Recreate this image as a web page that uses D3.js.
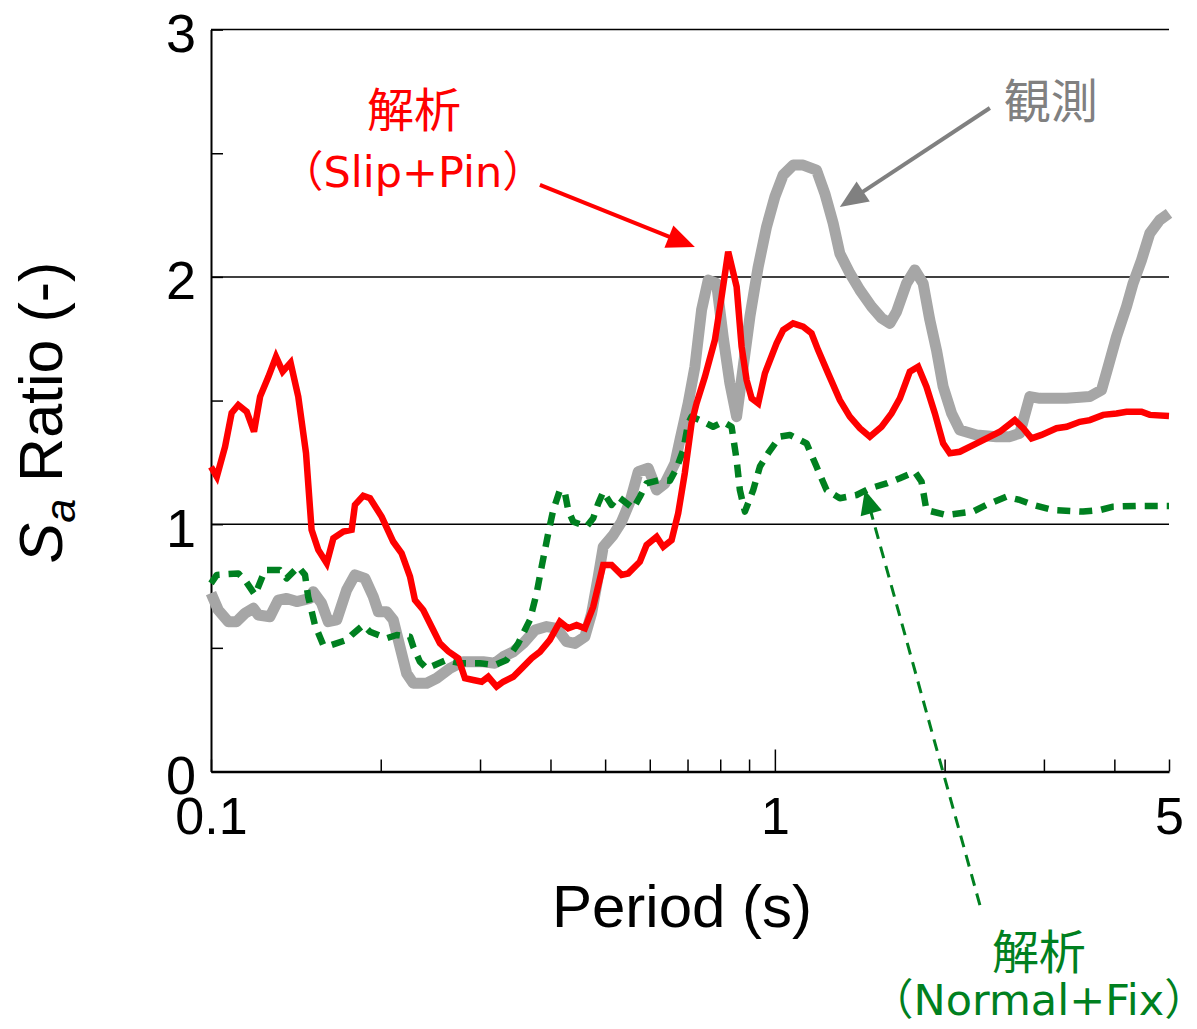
<!DOCTYPE html>
<html lang="ja">
<head>
<meta charset="utf-8">
<title>Sa Ratio</title>
<script src="https://cdn.jsdelivr.net/npm/d3@7/dist/d3.min.js"></script>
<style>
  html, body { margin: 0; padding: 0; background: #fff; }
  svg { display: block; }
</style>
</head>
<body>
<script>
// ---- data -------------------------------------------------------------
// Observed spectral-acceleration ratio (観測)
const periodsObs = [
  0.1000,0.1030,0.1073,0.1110,0.1149,0.1189,0.1213,0.1272,0.1316,0.1362,
  0.1419,0.1498,0.1518,0.1571,0.1614,0.1671,0.1740,0.1800,0.1875,0.1940,
  0.1980,0.2049,0.2105,0.2163,0.2223,0.2284,0.2413,0.2513,0.2653,0.2801,
  0.3039,0.3188,0.3298,0.3436,0.3579,0.3754,0.3938,0.4102,0.4273,0.4420,
  0.4603,0.4732,0.4861,0.4962,0.5167,0.5348,0.5534,0.5724,0.5962,0.6170,
  0.6383,0.6648,0.6786,0.7019,0.7214,0.7413,0.7616,0.7881,0.8096,0.8321,
  0.8554,0.8787,0.9031,0.9342,0.9667,1.0000,1.0344,1.0775,1.1224,1.1853,
  1.2262,1.2687,1.3037,1.3580,1.4148,1.4840,1.546,1.5991,1.6436,1.7120,
  1.7709,1.8318,1.8827,1.9348,1.988,2.0579,2.128,2.279,2.4718,2.6104,
  2.7190,2.8321,2.9510,3.291,3.619,3.7960,3.8995,4.035,4.204,4.3182,
  4.469,4.623,4.8150,5.0
];
const ratioObs = [
  0.721,0.653,0.606,0.606,0.640,0.660,0.633,0.626,0.693,0.700,
  0.687,0.700,0.727,0.680,0.606,0.613,0.734,0.795,0.781,0.707,
  0.646,0.646,0.613,0.505,0.397,0.357,0.357,0.377,0.417,0.444,
  0.444,0.438,0.464,0.484,0.518,0.572,0.586,0.579,0.525,0.518,
  0.545,0.640,0.788,0.909,0.956,1.010,1.091,1.212,1.226,1.138,
  1.165,1.246,1.340,1.489,1.637,1.866,1.987,1.974,1.758,1.570,
  1.435,1.637,1.839,2.041,2.203,2.324,2.412,2.452,2.452,2.432,
  2.338,2.217,2.095,2.015,1.947,1.880,1.833,1.812,1.859,1.974,
  2.028,1.974,1.826,1.704,1.556,1.448,1.381,1.361,1.354,1.354,
  1.368,1.516,1.509,1.509,1.516,1.543,1.637,1.758,1.880,1.974,
  2.068,2.176,2.230,2.257
];

// Analysis, Slip+Pin model
const periodsSlip = [
  0.1000,0.1024,0.1059,0.1088,0.1118,0.1157,0.1192,0.1222,0.1264,0.1304,
  0.1340,0.1384,0.1428,0.1474,0.1508,0.1550,0.1604,0.1648,0.1717,0.1776,
  0.1800,0.1862,0.1914,0.2008,0.2105,0.2178,0.2254,0.2300,0.2379,0.2478,
  0.2547,0.2635,0.2745,0.2821,0.2918,0.3020,0.3102,0.3210,0.3298,0.3436,
  0.3556,0.3704,0.3831,0.3990,0.4157,0.4300,0.4450,0.4603,0.4762,0.4962,
  0.5133,0.5348,0.5494,0.5762,0.5922,0.6170,0.6339,0.6559,0.6738,0.6922,
  0.7116,0.7263,0.7514,0.7828,0.8045,0.8265,0.8554,0.8730,0.8910,0.9094,
  0.9342,0.9601,1.0070,1.0344,1.0775,1.1224,1.1614,1.1931,1.2430,1.3037,
  1.3580,1.4148,1.4738,1.546,1.610,1.666,1.735,1.795,1.857,1.922,
  1.988,2.043,2.128,2.279,2.506,2.664,2.756,2.852,2.971,3.159,
  3.291,3.474,3.619,3.821,4.035,4.204,4.469,4.623,5.0
];
const ratioSlip = [
  1.232,1.192,1.313,1.450,1.482,1.455,1.374,1.516,1.596,1.677,
  1.617,1.653,1.516,1.288,0.977,0.896,0.842,0.943,0.970,0.977,
  1.078,1.115,1.105,1.030,0.929,0.882,0.788,0.693,0.653,0.572,
  0.518,0.486,0.458,0.377,0.370,0.363,0.383,0.343,0.363,0.383,
  0.417,0.458,0.484,0.532,0.606,0.579,0.592,0.579,0.666,0.835,
  0.835,0.795,0.801,0.848,0.916,0.949,0.909,0.936,1.044,1.206,
  1.408,1.489,1.596,1.745,1.920,2.102,1.960,1.718,1.583,1.509,
  1.489,1.610,1.731,1.785,1.812,1.799,1.772,1.704,1.610,1.502,
  1.435,1.388,1.354,1.394,1.448,1.509,1.617,1.637,1.556,1.448,
  1.327,1.287,1.293,1.327,1.374,1.421,1.388,1.347,1.361,1.388,
  1.394,1.414,1.421,1.442,1.448,1.455,1.455,1.442,1.438
];

// Analysis, Normal+Fix model
const periodsFix = [
  0.1000,0.1024,0.1118,0.1149,0.1197,0.1247,0.1325,0.1362,0.1428,0.1468,
  0.1487,0.1529,0.1581,0.1637,0.1740,0.1776,0.1862,0.1914,0.2049,0.2135,
  0.2254,0.2284,0.2347,0.2413,0.2618,
  0.2764,0.2998,0.3188,0.3344,0.3506,
  0.3678,0.3780,0.3858,0.3963,0.4045,0.4157,0.4244,0.4300,0.4390,0.4636,
  0.4762,0.4861,0.4962,0.5133,0.5274,0.5609,0.5762,0.5922,0.6255,0.6514,
  0.6695,0.6878,0.7019,
  0.7116,0.7362,0.7771,0.8096,0.8380,0.8554,0.8668,
  0.8848,0.9153,0.9407,0.9730,1.0207,1.0632,1.1381,1.1853,1.2350,1.3037,
  1.3961,1.4738,1.5776,1.666,1.7709,1.8201,1.857,
  2.0160,2.2471,2.3731,
  2.5751,2.7190,2.8708,3.1143,3.5210,3.7690,3.9810,4.3774,5.0
];
const ratioFix = [
  0.761,0.795,0.801,0.774,0.714,0.815,0.815,0.781,0.828,0.795,
  0.707,0.592,0.512,0.512,0.532,0.552,0.592,0.565,0.539,0.552,
  0.545,0.505,0.444,0.417,0.451,
  0.438,0.438,0.431,0.451,0.518,
  0.613,0.721,0.828,0.963,1.057,1.138,1.125,1.057,1.010,0.990,
  1.024,1.084,1.131,1.078,1.111,1.064,1.111,1.165,1.179,1.176,
  1.226,1.300,1.408,
  1.435,1.421,1.394,1.414,1.394,1.260,1.138,
  1.051,1.138,1.233,1.287,1.354,1.361,1.327,1.233,1.138,1.105,
  1.118,1.145,1.165,1.186,1.212,1.172,1.057,
  1.037,1.051,1.078,
  1.111,1.098,1.078,1.057,1.051,1.057,1.071,1.074,1.074
];

// Axis ticks and labels
const xTickValues = [0.1,0.2,0.3,0.4,0.5,0.6,0.7,0.8,0.9,1,2,3,4,5];
const xLabelValues = [0.1, 1, 5];
const xTickLabels = ["0.1", "1", "5"];
const yTickValues = [0,0.5,1,1.5,2,2.5,3];
const yLabelValues = [0, 1, 2, 3];
const yTickLabels = ["0", "1", "2", "3"];
const gridValues = [1, 2, 3];

// ---- layout -----------------------------------------------------------
const W = 1197, H = 1029;
const margin = { top: 29.6, right: 28, bottom: 257.5, left: 211 };
const FONT = "'Liberation Sans', Arial, Helvetica, sans-serif";
const JP = "'Noto Sans CJK JP', 'Noto Sans', sans-serif";
const JP_LATIN = "'DejaVu Sans', 'Noto Sans CJK JP', sans-serif";

const x = d3.scaleLog().domain([0.1, 5]).range([margin.left, W - margin.right]);
const y = d3.scaleLinear().domain([0, 3]).range([H - margin.bottom, margin.top]);

// Callout texts and arrows, anchored in (period, ratio) units
const notes = [
  { text: "解析", at: [0.229, 2.607], color: "#ff0000", latin: false },
  { text: "（Slip+Pin）", at: [0.228, 2.364], color: "#ff0000", latin: true },
  { text: "観測", at: [3.086, 2.643], color: "#808080", latin: false },
  { text: "解析", at: [2.939, -0.800], color: "#008020", latin: false },
  { text: "（Normal+Fix）", at: [2.939, -0.985], color: "#008020", latin: true }
];
const arrows = [
  { from: [0.3831, 2.372], to: [0.7214, 2.121], color: "#ff0000", width: 4, head: [28, 24], dash: null },
  { from: [2.406, 2.683], to: [1.3037, 2.283], color: "#808080", width: 4, head: [28, 24], dash: null },
  { from: [2.310, -0.540], to: [1.444, 1.138], color: "#008020", width: 3, head: [24, 22], dash: "12,8" }
];

const svg = d3.select("body").append("svg")
  .attr("width", W).attr("height", H)
  .attr("viewBox", `0 0 ${W} ${H}`);

// ---- grid -------------------------------------------------------------
svg.append("g").attr("class", "grid")
  .selectAll("line").data(gridValues).join("line")
  .attr("x1", x.range()[0]).attr("x2", x.range()[1])
  .attr("y1", d => y(d)).attr("y2", d => y(d))
  .attr("stroke", "#000").attr("stroke-width", 1.5);

// ---- axes -------------------------------------------------------------
const xAxis = d3.axisBottom(x)
  .tickValues(xTickValues)
  .tickSize(-12).tickSizeOuter(0)
  .tickFormat(d => {
    const i = xLabelValues.indexOf(d);
    return i >= 0 ? xTickLabels[i] : "";
  });
const gx = svg.append("g")
  .attr("transform", `translate(0,${y(0)})`)
  .call(xAxis);
gx.select(".domain").attr("stroke", "#000").attr("stroke-width", 2.5);
gx.selectAll(".tick line").attr("stroke", "#000").attr("stroke-width", 1.5)
  .attr("y2", d => d === 1 ? -22 : -12);
gx.selectAll(".tick text")
  .attr("y", 62).attr("dy", null)
  .attr("fill", "#000")
  .style("font-family", FONT).style("font-size", "52px");

const yAxis = d3.axisLeft(y)
  .tickValues(yTickValues)
  .tickSize(-12).tickSizeOuter(0)
  .tickFormat(d => {
    const i = yLabelValues.indexOf(d);
    return i >= 0 ? yTickLabels[i] : "";
  });
const gy = svg.append("g")
  .attr("transform", `translate(${x(0.1)},0)`)
  .call(yAxis);
gy.select(".domain").attr("stroke", "#000").attr("stroke-width", 2);
gy.selectAll(".tick line").attr("stroke", "#000").attr("stroke-width", 1.5);
gy.selectAll(".tick text")
  .attr("x", -15).attr("y", 22).attr("dy", null)
  .attr("fill", "#000")
  .style("font-family", FONT).style("font-size", "54px");

// axis titles
svg.append("text")
  .attr("x", (x.range()[0] + x.range()[1]) / 2 - 8)
  .attr("y", y(0) + 155)
  .attr("text-anchor", "middle")
  .style("font-family", FONT).style("font-size", "60px")
  .text("Period (s)");

const yTitle = svg.append("text")
  .attr("transform", `translate(62,${(y(0) + y(3)) / 2 + 12}) rotate(-90)`)
  .attr("text-anchor", "middle")
  .style("font-family", FONT).style("font-size", "61px");
yTitle.append("tspan").style("font-style", "italic").text("S");
yTitle.append("tspan").style("font-style", "italic").style("font-size", "43px")
  .attr("dy", 13).text("a");
yTitle.append("tspan").attr("dy", -13).text(" Ratio (-)");

// ---- series -----------------------------------------------------------
const line = d3.line().x(d => x(d[0])).y(d => y(d[1]));

svg.append("path")
  .datum(d3.zip(periodsObs, ratioObs))
  .attr("d", line)
  .attr("fill", "none").attr("stroke", "#a6a6a6")
  .attr("stroke-width", 11).attr("stroke-linejoin", "round");

svg.append("path")
  .datum(d3.zip(periodsFix, ratioFix))
  .attr("d", line)
  .attr("fill", "none").attr("stroke", "#008020")
  .attr("stroke-width", 6.5).attr("stroke-dasharray", "13,9")
  .attr("stroke-linejoin", "round");

svg.append("path")
  .datum(d3.zip(periodsSlip, ratioSlip))
  .attr("d", line)
  .attr("fill", "none").attr("stroke", "#ff0000")
  .attr("stroke-width", 6.5).attr("stroke-linejoin", "miter").attr("stroke-miterlimit", 3);

// ---- callouts ---------------------------------------------------------
const gA = svg.append("g").attr("class", "callouts");
arrows.forEach(a => {
  const x0 = x(a.from[0]), y0 = y(a.from[1]);
  const x1 = x(a.to[0]), y1 = y(a.to[1]);
  const len = Math.hypot(x1 - x0, y1 - y0);
  const ux = (x1 - x0) / len, uy = (y1 - y0) / len;
  const bx = x1 - ux * a.head[0], by = y1 - uy * a.head[0];
  const hw = a.head[1] / 2;
  gA.append("line")
    .attr("x1", x0).attr("y1", y0).attr("x2", bx + ux * 2).attr("y2", by + uy * 2)
    .attr("stroke", a.color).attr("stroke-width", a.width)
    .attr("stroke-dasharray", a.dash);
  gA.append("path")
    .attr("d", d3.line()([[x1, y1], [bx - uy * hw, by + ux * hw], [bx + uy * hw, by - ux * hw]]) + "Z")
    .attr("fill", a.color);
});

gA.selectAll("text").data(notes).join("text")
  .attr("x", d => x(d.at[0])).attr("y", d => y(d.at[1]))
  .attr("text-anchor", "middle")
  .attr("fill", d => d.color)
  .style("font-family", d => d.latin ? JP_LATIN : JP)
  .style("font-size", d => d.latin ? "43px" : "47px")
  .text(d => d.text);
</script>
</body>
</html>
